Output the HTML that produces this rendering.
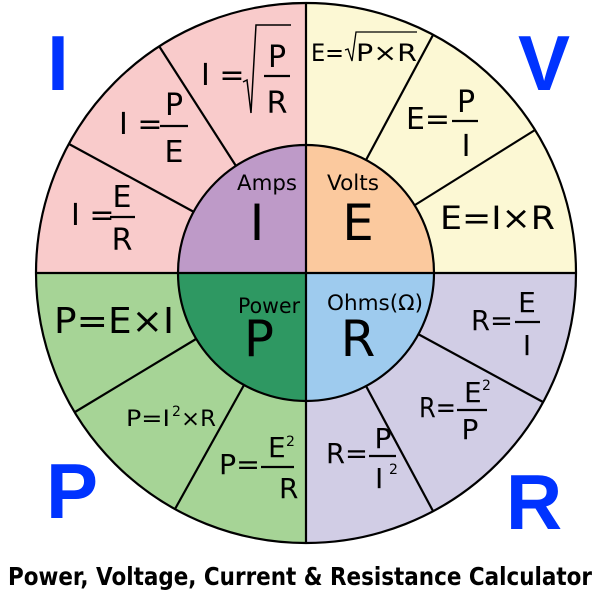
<!DOCTYPE html>
<html><head><meta charset="utf-8"><style>html,body{margin:0;padding:0;background:#fff}svg{display:block}</style></head><body>
<svg width="600" height="600" viewBox="0 0 600 600" xmlns="http://www.w3.org/2000/svg" font-family="'DejaVu Sans','Liberation Sans',sans-serif">
<path d="M306,273 L36,273 A270,270 0 0 1 306,3 Z" fill="#f9cbcb"/>
<path d="M306,273 L306,3 A270,270 0 0 1 576,273 Z" fill="#fcf8d4"/>
<path d="M306,273 L576,273 A270,270 0 0 1 306,543 Z" fill="#d1cde5"/>
<path d="M306,273 L306,543 A270,270 0 0 1 36,273 Z" fill="#a6d496"/>
<g stroke="#000" stroke-width="2.2" fill="none">
<line x1="194" y1="212" x2="69" y2="144"/>
<line x1="236" y1="166" x2="159" y2="46"/>
<line x1="366" y1="160" x2="433" y2="35"/>
<line x1="415" y1="205" x2="535" y2="130"/>
<line x1="418" y1="334" x2="543" y2="402"/>
<line x1="366" y1="386" x2="433" y2="511"/>
<line x1="196" y1="339" x2="75" y2="412"/>
<line x1="244" y1="385" x2="175" y2="509"/>
</g>
<path d="M306,273 L178,273 A128,128 0 0 1 306,145 Z" fill="#be9ac8"/>
<path d="M306,273 L306,145 A128,128 0 0 1 434,273 Z" fill="#fbc99e"/>
<path d="M306,273 L434,273 A128,128 0 0 1 306,401 Z" fill="#9ecbee"/>
<path d="M306,273 L306,401 A128,128 0 0 1 178,273 Z" fill="#2e9862"/>
<g stroke="#000" stroke-width="2.2" fill="none">
<circle cx="306" cy="273" r="128"/>
<circle cx="306" cy="273" r="270"/>
<line x1="36" y1="273" x2="576" y2="273"/>
<line x1="306" y1="3" x2="306" y2="543"/>
<line x1="110" y1="217" x2="135" y2="217"/>
<line x1="160" y1="126" x2="188" y2="126"/>
<line x1="264" y1="76" x2="290" y2="76"/>
<polyline points="243,82 247,80 251,113 256,25 291,25" stroke-width="1.5"/>
<polyline points="345,50 348,49 352,61 356,32 417,32" stroke-width="1.3"/>
<line x1="452" y1="121" x2="478" y2="121"/>
<line x1="261" y1="467" x2="294" y2="467"/>
<line x1="515" y1="322" x2="540" y2="322"/>
<line x1="457" y1="410" x2="487" y2="410"/>
<line x1="369" y1="456" x2="396" y2="456"/>
</g>
<g fill="#000" font-size="30">
<text x="71" y="225">I =</text>
<text x="122" y="207" text-anchor="middle">E</text>
<text x="122" y="250" text-anchor="middle">R</text>
<text x="119" y="134">I =</text>
<text x="174" y="115" text-anchor="middle">P</text>
<text x="174" y="162" text-anchor="middle">E</text>
<text x="201" y="85">I =</text>
<text x="277" y="67" text-anchor="middle">P</text>
<text x="277" y="113" text-anchor="middle">R</text>
<text x="311" y="61" font-size="24" textLength="33" lengthAdjust="spacingAndGlyphs">E=</text>
<text x="356" y="61" font-size="24" textLength="61" lengthAdjust="spacingAndGlyphs">P×R</text>
<text x="406" y="129" textLength="44" lengthAdjust="spacingAndGlyphs">E=</text>
<text x="466" y="112" text-anchor="middle">P</text>
<text x="466" y="156" text-anchor="middle">I</text>
<text x="440" y="229" font-size="32" textLength="115" lengthAdjust="spacingAndGlyphs">E=I×R</text>
<text x="237" y="190" font-size="21" textLength="60" lengthAdjust="spacingAndGlyphs">Amps</text>
<text x="257" y="240" font-size="50" text-anchor="middle">I</text>
<text x="327" y="190" font-size="21" textLength="52" lengthAdjust="spacingAndGlyphs">Volts</text>
<text x="358" y="240" font-size="50" text-anchor="middle">E</text>
<text x="238" y="313" font-size="21" textLength="62" lengthAdjust="spacingAndGlyphs">Power</text>
<text x="259" y="356" font-size="50" text-anchor="middle">P</text>
<text x="327" y="310" font-size="21" textLength="96" lengthAdjust="spacingAndGlyphs">Ohms(Ω)</text>
<text x="358" y="356" font-size="50" text-anchor="middle">R</text>
<text x="54" y="333" font-size="36" textLength="120" lengthAdjust="spacingAndGlyphs">P=E×I</text>
<text x="126" y="426" font-size="22" textLength="44" lengthAdjust="spacingAndGlyphs">P=I</text>
<text x="172" y="416" font-size="14">2</text>
<text x="181" y="426" font-size="22" textLength="35" lengthAdjust="spacingAndGlyphs">×R</text>
<text x="219" y="474" font-size="28" textLength="41" lengthAdjust="spacingAndGlyphs">P=</text>
<text x="268" y="457" font-size="28">E</text>
<text x="286" y="446" font-size="14">2</text>
<text x="279" y="498" font-size="28">R</text>
<text x="471" y="330" font-size="28" textLength="42" lengthAdjust="spacingAndGlyphs">R=</text>
<text x="527" y="312" font-size="28" text-anchor="middle">E</text>
<text x="527" y="355" font-size="28" text-anchor="middle">I</text>
<text x="419" y="417" font-size="28" textLength="37" lengthAdjust="spacingAndGlyphs">R=</text>
<text x="464" y="402" font-size="28">E</text>
<text x="482" y="390" font-size="14">2</text>
<text x="470" y="439" font-size="28" text-anchor="middle">P</text>
<text x="326" y="463" font-size="28" textLength="42" lengthAdjust="spacingAndGlyphs">R=</text>
<text x="383" y="448" font-size="28" text-anchor="middle">P</text>
<text x="375" y="488" font-size="28">I</text>
<text x="389" y="474" font-size="14">2</text>
</g>
<g fill="#0033ff" font-family="'Liberation Sans',sans-serif" font-weight="bold" font-size="78">
<text x="58" y="90" text-anchor="middle">I</text>
<text x="544" y="90" text-anchor="middle">V</text>
<text x="72" y="518" text-anchor="middle">P</text>
<text x="534" y="529" text-anchor="middle">R</text>
</g>
<text x="8" y="585" font-family="'DejaVu Sans',sans-serif" font-weight="bold" font-size="25" textLength="584" lengthAdjust="spacingAndGlyphs" fill="#000">Power, Voltage, Current &amp; Resistance Calculator</text>
</svg>
</body></html>
